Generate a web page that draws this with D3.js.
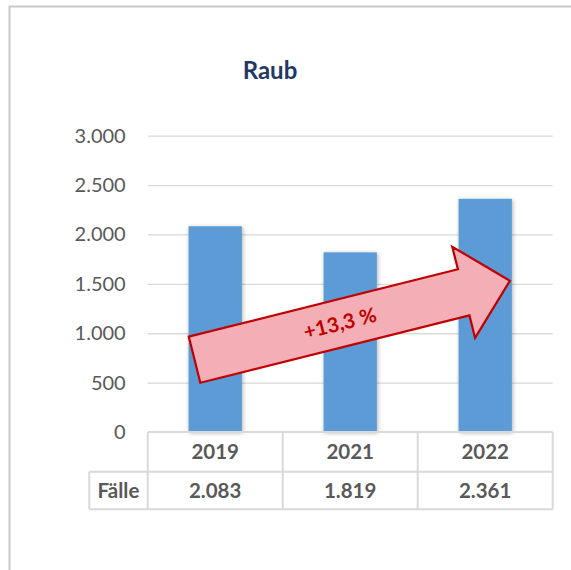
<!DOCTYPE html>
<html>
<head>
<meta charset="utf-8">
<script src="https://cdn.jsdelivr.net/npm/d3@7"></script>
<style>
  body { margin: 0; background: #fff; }
  svg { display: block; font-family: Lato, "Open Sans", sans-serif; }
</style>
</head>
<body>
<svg width="571" height="570"></svg>
<script>
// data
const years = ["2019", "2021", "2022"]
const cases = [2083, 1819, 2361]
const yTicks = [0, 500, 1000, 1500, 2000, 2500, 3000]
const rowLabel = "Fälle"
const title = "Raub"
const changeLabel = "+13,3 %"
// arrow ends, in data units (value) anchored on bars
const arrowFrom = { year: "2019", value: 732 }
const arrowTo = { year: "2022", value: 1531 }

const fmt = d3.formatLocale({ decimal: ",", thousands: ".", grouping: [3], currency: ["", "€"] }).format(",d")

const svg = d3.select("svg")

const x = d3.scaleBand().domain(years).range([147.7, 552.7])
const y = d3.scaleLinear().domain([0, 3000]).range([432, 135.7])
const barW = x.bandwidth() * 0.395

// shadow for bars
const defs = svg.append("defs")
defs.append("filter")
  .attr("id", "shadow")
  .attr("x", "-30%").attr("y", "-10%").attr("width", "160%").attr("height", "120%")
  .append("feDropShadow")
  .attr("dx", 1).attr("dy", 1).attr("stdDeviation", 2)
  .attr("flood-color", "#000").attr("flood-opacity", 0.3)

// outer frame (only top and left visible)
svg.append("path")
  .attr("d", "M9.5,571 V6.5 H571")
  .attr("fill", "none")
  .attr("stroke", "#c8c8c8")
  .attr("stroke-width", 2)

// title
svg.append("text")
  .attr("x", 270).attr("y", 79)
  .attr("text-anchor", "middle")
  .attr("font-size", 24).attr("font-weight", "bold")
  .attr("fill", "#1f3864")
  .text(title)

// gridlines + y labels
const axisY = d3.axisLeft(y)
  .tickValues(yTicks)
  .tickSizeInner(-(552.7 - 147.7))
  .tickSizeOuter(0)
  .tickPadding(22)
  .tickFormat(fmt)

const axisYGroup = svg.append("g")
  .attr("transform", "translate(147.7,0)")
  .call(axisY)
axisYGroup.select(".domain").remove()
axisYGroup.selectAll(".tick line").attr("stroke", "#d9d9d9").attr("stroke-width", 1.3)
axisYGroup.selectAll(".tick text")
  .attr("fill", "#595959")
  .attr("font-size", 20)
  .attr("font-family", "Lato, sans-serif")
axisYGroup.selectAll(".tick").filter(d => d === 0).select("line").remove()

// bars
svg.selectAll("rect.bar")
  .data(years)
  .enter()
  .append("rect")
  .attr("class", "bar")
  .attr("x", d => x(d) + (x.bandwidth() - barW) / 2)
  .attr("y", (d, i) => y(cases[i]))
  .attr("width", barW)
  .attr("height", (d, i) => y(0) - y(cases[i]))
  .attr("fill", "#5b9bd5")
  .attr("filter", "url(#shadow)")

// data table
const rowTop = y(0)
const rowMid = 471.7
const rowBot = 509.3
const labelLeft = 89.3
const table = svg.append("g")
  .attr("fill", "none")
  .attr("stroke", "#d9d9d9")
  .attr("stroke-width", 2)

table.append("line").attr("x1", x.range()[0]).attr("x2", x.range()[1]).attr("y1", rowTop).attr("y2", rowTop)
table.append("line").attr("x1", labelLeft).attr("x2", x.range()[1]).attr("y1", rowMid).attr("y2", rowMid)
table.append("line").attr("x1", labelLeft).attr("x2", x.range()[1]).attr("y1", rowBot).attr("y2", rowBot)
table.append("line").attr("x1", labelLeft).attr("x2", labelLeft).attr("y1", rowMid).attr("y2", rowBot)
table.selectAll("line.col")
  .data(years.concat(["end"]))
  .enter()
  .append("line")
  .attr("class", "col")
  .attr("x1", d => d === "end" ? x.range()[1] : x(d))
  .attr("x2", d => d === "end" ? x.range()[1] : x(d))
  .attr("y1", rowTop).attr("y2", rowBot)

svg.selectAll("text.year")
  .data(years)
  .enter()
  .append("text")
  .attr("class", "year")
  .attr("x", d => x(d) + x.bandwidth() / 2)
  .attr("y", 458.6)
  .attr("text-anchor", "middle")
  .attr("font-size", 20.5).attr("font-weight", "bold")
  .attr("fill", "#595959")
  .text(d => d)

svg.selectAll("text.val")
  .data(cases)
  .enter()
  .append("text")
  .attr("class", "val")
  .attr("x", (d, i) => x(years[i]) + x.bandwidth() / 2)
  .attr("y", 498)
  .attr("text-anchor", "middle")
  .attr("font-size", 20.5).attr("font-weight", "bold")
  .attr("fill", "#595959")
  .text(d => fmt(d))

svg.append("text")
  .attr("x", (labelLeft + x.range()[0]) / 2)
  .attr("y", 498)
  .attr("text-anchor", "middle")
  .attr("font-size", 20.5).attr("font-weight", "bold")
  .attr("fill", "#595959")
  .text(rowLabel)

// trend arrow
const x0 = x(arrowFrom.year) + (x.bandwidth() - barW) / 2 + 6
const y0 = y(arrowFrom.value)
const x1 = x(arrowTo.year) + (x.bandwidth() + barW) / 2 - 2
const y1 = y(arrowTo.value)
const len = Math.hypot(x1 - x0, y1 - y0)
const ang = Math.atan2(y1 - y0, x1 - x0) * 180 / Math.PI
const shaftHalf = 23.8
const headHalf = 47
const headLen = 47.6

const arrow = svg.append("g")
  .attr("transform", `translate(${x0},${y0}) rotate(${ang})`)

arrow.append("path")
  .attr("d", d3.line()([
    [0, -shaftHalf],
    [len - headLen, -shaftHalf],
    [len - headLen, -headHalf],
    [len, 0],
    [len - headLen, headHalf],
    [len - headLen, shaftHalf],
    [0, shaftHalf]
  ]) + "Z")
  .attr("fill", "#f4aeb5")
  .attr("stroke", "#c00000")
  .attr("stroke-width", 2.2)
  .attr("stroke-linejoin", "miter")

arrow.append("text")
  .attr("x", 150)
  .attr("y", 0)
  .attr("dy", "0.35em")
  .attr("text-anchor", "middle")
  .attr("font-size", 20.5).attr("font-weight", "bold")
  .attr("fill", "#c00000")
  .text(changeLabel)
</script>
</body>
</html>
